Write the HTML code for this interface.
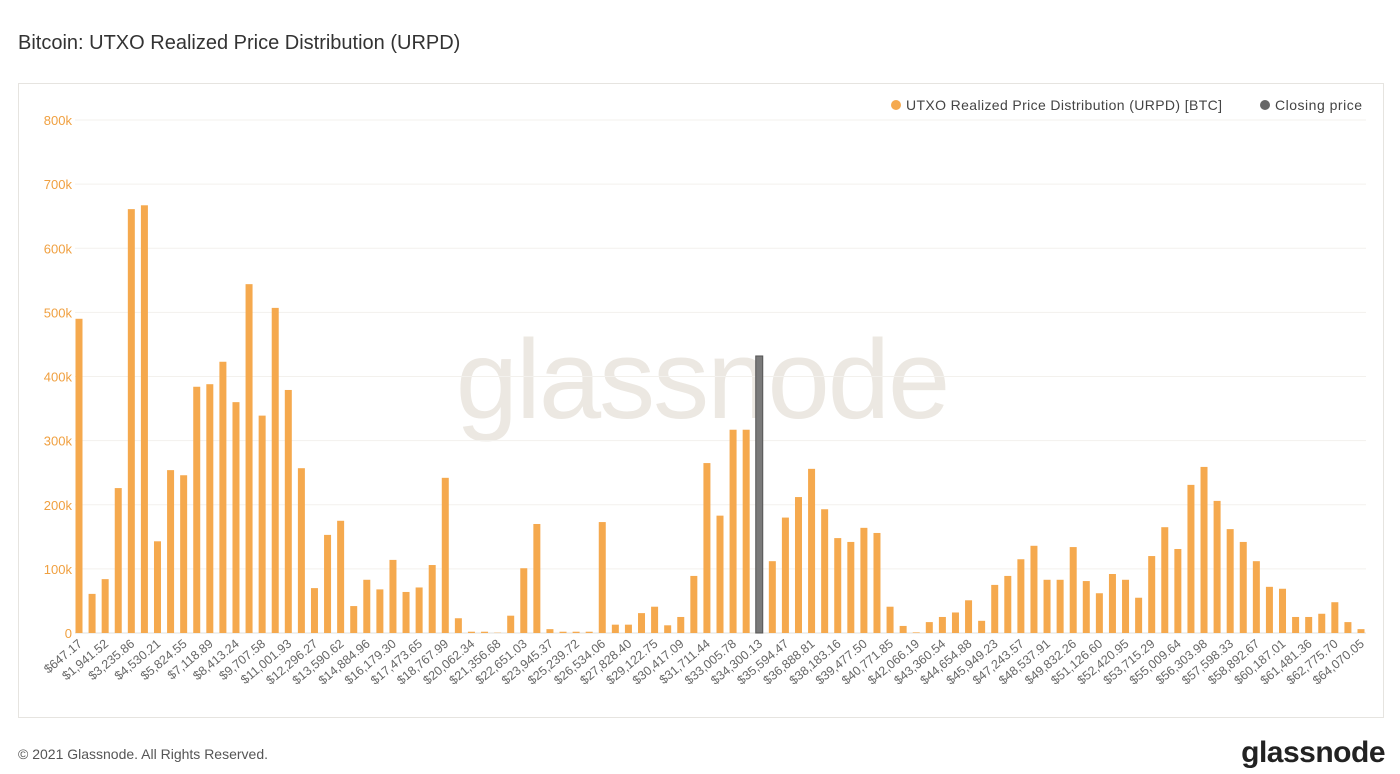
<!DOCTYPE html>
<html><head><meta charset="utf-8">
<style>
body{margin:0;background:#fff;width:1400px;height:769px;overflow:hidden;font-family:"Liberation Sans",sans-serif;}
svg text{font-family:"Liberation Sans",sans-serif;}
</style></head>
<body>
<svg id="chart" width="1400" height="769" xmlns="http://www.w3.org/2000/svg">
<text x="18" y="49" font-size="20" fill="#333">Bitcoin: UTXO Realized Price Distribution (URPD)</text>
<rect x="18.5" y="83.5" width="1365" height="634" fill="none" stroke="#e6e4e0"/>
<text x="702" y="418" font-size="112" fill="#ece8e2" text-anchor="middle" letter-spacing="-2">glassnode</text>
<g id="grid"></g>
<g id="bars"></g>
<g id="xlabels"></g>
<g>
<circle cx="896" cy="105" r="5" fill="#f5a94e"/>
<text x="906" y="110" font-size="14" fill="#444" textLength="316">UTXO Realized Price Distribution (URPD) [BTC]</text>
<circle cx="1265" cy="105" r="5" fill="#666"/>
<text x="1275" y="110" font-size="14" fill="#444" textLength="87">Closing price</text>
</g>
<text x="18" y="759" font-size="14" fill="#555">© 2021 Glassnode. All Rights Reserved.</text>
<text x="1385" y="762" font-size="30" fill="#222" text-anchor="end" font-weight="bold" letter-spacing="-0.5">glassnode</text>
</svg>
<script>
const values=[490,61,84,226,661,667,143,254,246,384,388,423,360,544,339,507,379,257,70,153,175,42,83,68,114,64,71,106,242,23,2,2,0.5,27,101,170,6,2,2,2,173,13,13,31,41,12,25,89,265,183,317,317,0,112,180,212,256,193,148,142,164,156,41,11,1,17,25,32,51,19,75,89,115,136,83,83,134,81,62,92,83,55,120,165,131,231,259,206,162,142,112,72,69,25,25,30,48,17,6];
const closingIndex=52;
const closingValue=432;
const yTicks=[0,100,200,300,400,500,600,700,800];
const yTickLabels=["0","100k","200k","300k","400k","500k","600k","700k","800k"];
const xLabels=["$647.17","$1,941.52","$3,235.86","$4,530.21","$5,824.55","$7,118.89","$8,413.24","$9,707.58","$11,001.93","$12,296.27","$13,590.62","$14,884.96","$16,179.30","$17,473.65","$18,767.99","$20,062.34","$21,356.68","$22,651.03","$23,945.37","$25,239.72","$26,534.06","$27,828.40","$29,122.75","$30,417.09","$31,711.44","$33,005.78","$34,300.13","$35,594.47","$36,888.81","$38,183.16","$39,477.50","$40,771.85","$42,066.19","$43,360.54","$44,654.88","$45,949.23","$47,243.57","$48,537.91","$49,832.26","$51,126.60","$52,420.95","$53,715.29","$55,009.64","$56,303.98","$57,598.33","$58,892.67","$60,187.01","$61,481.36","$62,775.70","$64,070.05"];

const NS="http://www.w3.org/2000/svg";
const x0=79, x1=1361, y0=633, yTop=120, yMax=800;
const n=values.length;
const xPos=i=>x0+(x1-x0)*i/(n-1);
const yPos=v=>y0-(y0-yTop)*v/yMax;
function mk(tag,attrs,parent){const e=document.createElementNS(NS,tag);for(const k in attrs)e.setAttribute(k,attrs[k]);parent.appendChild(e);return e;}
const grid=document.getElementById('grid');
yTicks.forEach((t,j)=>{
  const l=mk('line',{x1:75,x2:1366,y1:yPos(t),y2:yPos(t),stroke:t===0?'#e2e0dc':'#f3f1ed','stroke-width':1},grid);
  
  
  const tx=mk('text',{x:72,y:yPos(t)+5,'font-size':13,fill:'#f0a040','text-anchor':'end'},grid);
  tx.textContent=yTickLabels[j];
  
  
});
const bars=document.getElementById('bars');
values.forEach((v,i)=>{
  const r=mk('rect',{x:xPos(i)-3.5,y:yPos(v),width:7,height:y0-yPos(v),fill:'#f5a94e'},bars);
  
  
});
const cb=mk('rect',{x:xPos(closingIndex)-3.5,y:yPos(closingValue),width:7,height:y0-yPos(closingValue),fill:'#7a7a7a',stroke:'#555','stroke-width':1},bars);


const xl=document.getElementById('xlabels');
xLabels.forEach((s,j)=>{
  const x=xPos(j*2)+4, y=y0+12;
  const t=mk('text',{x:x,y:y,'font-size':12.5,fill:'#666','text-anchor':'end',transform:'rotate(-40 '+x+' '+y+')'},xl);
  t.textContent=s;
  
  
});
</script>
</body></html>
